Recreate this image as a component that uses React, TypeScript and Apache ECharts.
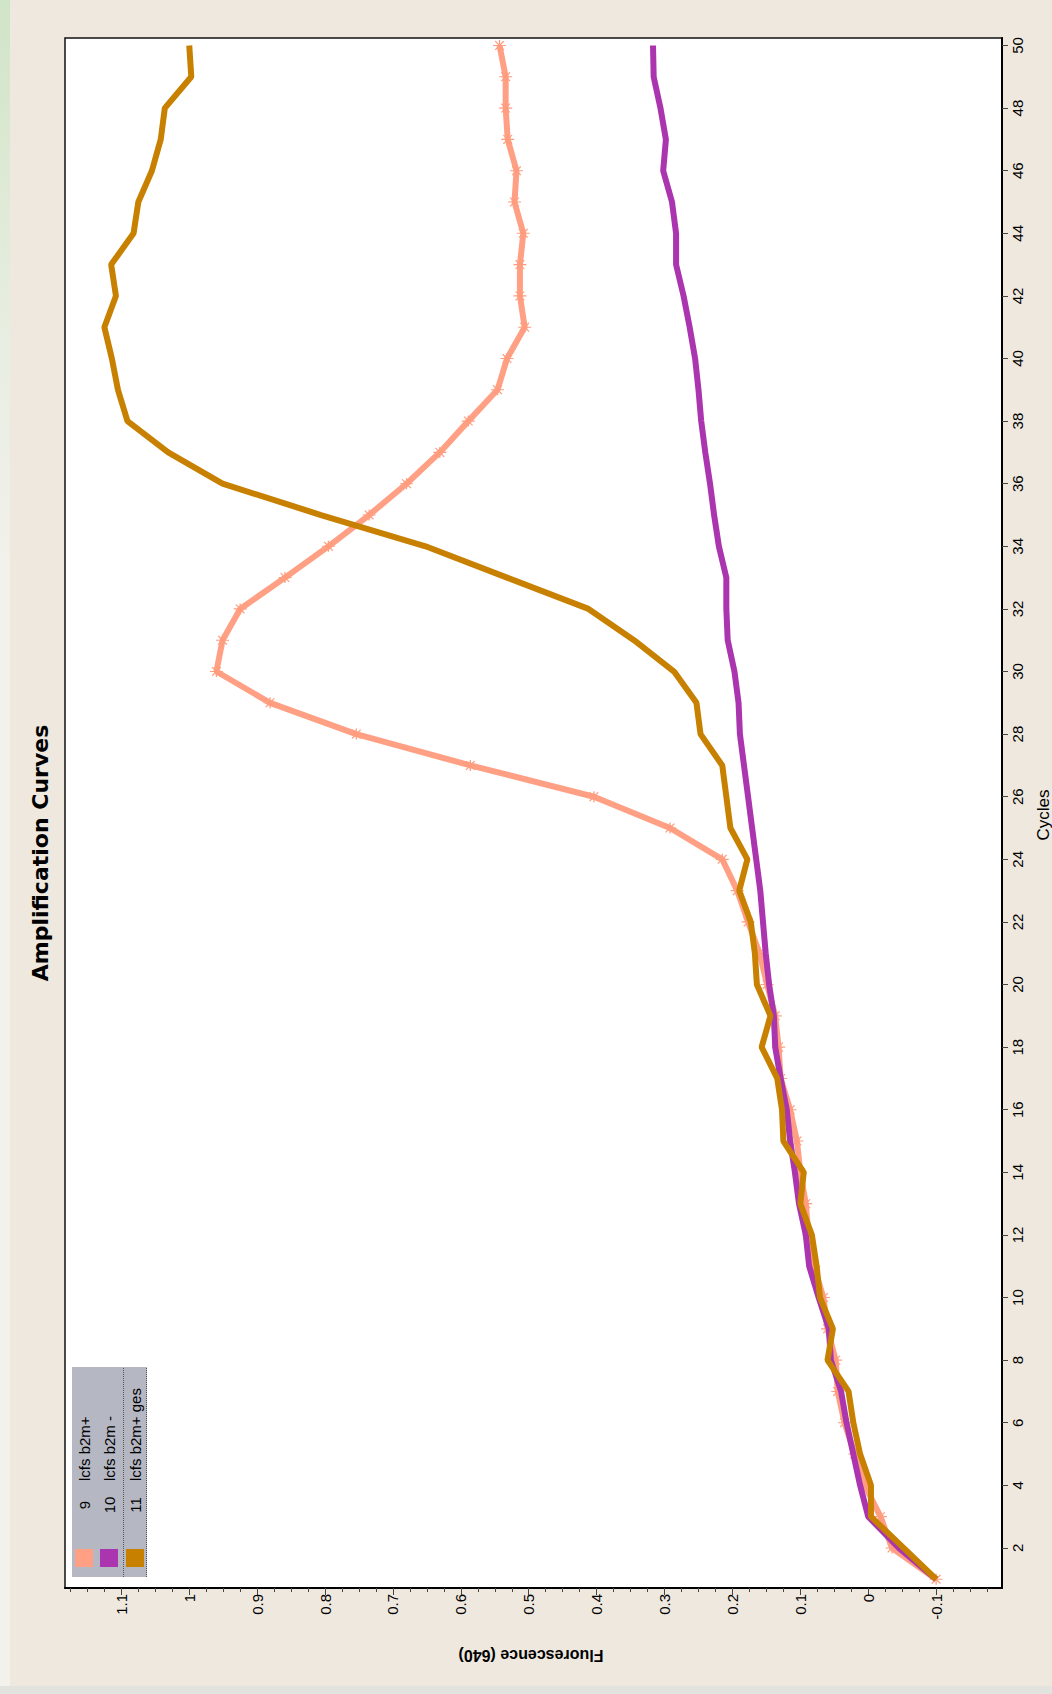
import React, { useEffect, useRef } from "react";
import * as echarts from "echarts";

const cycles = [1,2,3,4,5,6,7,8,9,10,11,12,13,14,15,16,17,18,19,20,21,22,23,24,25,26,27,28,29,30,31,32,33,34,35,36,37,38,39,40,41,42,43,44,45,46,47,48,49,50];

const b2mPlus = [-0.1,-0.035,-0.018,0.005,0.02,0.035,0.045,0.048,0.06,0.066,0.08,0.088,0.092,0.1,0.105,0.115,0.129,0.132,0.137,0.149,0.16,0.177,0.193,0.215,0.292,0.404,0.586,0.754,0.881,0.96,0.951,0.925,0.859,0.795,0.735,0.68,0.631,0.589,0.546,0.532,0.506,0.513,0.513,0.508,0.521,0.518,0.531,0.534,0.534,0.543];

const b2mMinus = [-0.1,-0.045,0.0,0.012,0.022,0.032,0.04,0.055,0.058,0.073,0.087,0.092,0.102,0.108,0.115,0.12,0.129,0.137,0.139,0.146,0.151,0.155,0.159,0.165,0.171,0.177,0.183,0.189,0.191,0.197,0.207,0.209,0.209,0.22,0.227,0.233,0.24,0.246,0.25,0.255,0.263,0.272,0.283,0.283,0.289,0.302,0.298,0.306,0.316,0.317];

const b2mPlusGes = [-0.1,-0.052,-0.004,-0.004,0.012,0.022,0.029,0.06,0.052,0.071,0.076,0.083,0.1,0.095,0.125,0.127,0.134,0.157,0.144,0.164,0.167,0.173,0.19,0.178,0.203,0.209,0.215,0.247,0.253,0.286,0.345,0.412,0.532,0.652,0.806,0.951,1.031,1.091,1.105,1.114,1.125,1.108,1.115,1.082,1.075,1.055,1.042,1.036,0.997,1.0];

const fluorTicks = [-0.1,0,0.1,0.2,0.3,0.4,0.5,0.6,0.7,0.8,0.9,1.0,1.1];
const cycleTicks = [2,4,6,8,10,12,14,16,18,20,22,24,26,28,30,32,34,36,38,40,42,44,46,48,50];

const seriesNames = ["lcfs b2m+", "lcfs b2m -", "lcfs b2m+ ges"];
const seriesIds = ["9", "10", "11"];
const seriesColors = ["#FFA084", "#AA35AE", "#C88000"];

const minorFluorTicks: number[] = [];
for (let i = 0; i < fluorTicks.length - 1; i++) {
  for (let k = 1; k < 4; k++) minorFluorTicks.push(+(fluorTicks[i] + (k * 0.025)).toFixed(3));
}
minorFluorTicks.push(-0.125, -0.15, -0.175, 1.125, 1.15, 1.175);

const FONT = "'Liberation Sans', Arial, sans-serif";

export default function App() {
  const ref = useRef<HTMLDivElement>(null);
  useEffect(() => {
    document.body.style.margin = "0";
    const chart = echarts.init(ref.current!, null, { renderer: "svg" });
    const mk = (vals: number[]) => cycles.map((c, i) => [vals[i], c]);
    const asterisk = "path://M0 5 L12 5 M2 1 L10 9 M10 1 L2 9 M6 0 L6 10";
    const legendX = [84, 109, 135];
    const graphic: any[] = [
      { type: "rect", shape: { x: 0, y: 0, width: 10, height: 1694 }, style: { fill: new echarts.graphic.LinearGradient(0, 0, 0, 1, [{ offset: 0, color: "#D0E4C7" }, { offset: 0.18, color: "#E6EDDF" }, { offset: 0.35, color: "#F3F1EC" }, { offset: 1, color: "#F3F1EC" }]) }, z: 0 },
      { type: "rect", shape: { x: 0, y: 1686, width: 1052, height: 8 }, style: { fill: "#E2E3DF" } },
      { type: "text", x: 40, y: 853, rotation: Math.PI / 2, style: { text: "Amplification Curves", fontSize: 22, fontWeight: "bold", fontFamily: "'DejaVu Sans', sans-serif", fill: "#000", align: "center", verticalAlign: "middle" } },
      { type: "text", x: 1043, y: 815, rotation: Math.PI / 2, style: { text: "Cycles", fontSize: 17, fontFamily: FONT, fill: "#000", align: "center", verticalAlign: "middle" } },
      { type: "text", x: 531, y: 1655, rotation: Math.PI, style: { text: "Fluorescence (640)", fontSize: 16, fontWeight: "bold", fontFamily: FONT, fill: "#000", align: "center", verticalAlign: "middle" } },
      { type: "rect", shape: { x: 72, y: 1367, width: 75, height: 210 }, style: { fill: "#B5B7C3" }, z: 10 },
      { type: "line", shape: { x1: 123.5, y1: 1368, x2: 123.5, y2: 1577 }, style: { stroke: "#555", lineWidth: 1, lineDash: [1, 1] }, z: 11 },
      { type: "line", shape: { x1: 146.5, y1: 1368, x2: 146.5, y2: 1577 }, style: { stroke: "#555", lineWidth: 1, lineDash: [1, 1] }, z: 11 },
    ];
    seriesNames.forEach((n, i) => {
      graphic.push({ type: "rect", shape: { x: legendX[i] - 9, y: 1549, width: 18, height: 18 }, style: { fill: seriesColors[i] }, z: 11 });
      graphic.push({ type: "text", x: legendX[i], y: 1505, rotation: Math.PI / 2, style: { text: seriesIds[i], fontSize: 15, fontFamily: FONT, fill: "#000", align: "center", verticalAlign: "middle" }, z: 11 });
      graphic.push({ type: "text", x: legendX[i], y: 1481, rotation: Math.PI / 2, style: { text: n, fontSize: 15, fontFamily: FONT, fill: "#000", align: "left", verticalAlign: "middle" }, z: 11 });
    });

    chart.setOption({
      animation: false,
      backgroundColor: "#EFE8DF",
      grid: { left: 65, right: 50, top: 38, bottom: 106, show: true, backgroundColor: "#fff", borderColor: "#111", borderWidth: 1.5 },
      xAxis: [
        {
          type: "value", inverse: true, min: -0.197, max: 1.183, position: "bottom",
          axisLine: { show: true, onZero: false, lineStyle: { color: "#000", width: 2 } },
          splitLine: { show: false },
          axisTick: { show: true, customValues: fluorTicks, length: 7, lineStyle: { color: "#444" } },
          axisLabel: { customValues: fluorTicks, rotate: 90, fontSize: 15, color: "#000", margin: 6, fontFamily: FONT, formatter: (v: number) => String(Math.round(v * 10) / 10) },
        },
        {
          type: "value", inverse: true, min: -0.197, max: 1.183, position: "bottom",
          axisLine: { show: false, onZero: false }, splitLine: { show: false },
          axisTick: { show: true, customValues: minorFluorTicks, length: 4, lineStyle: { color: "#444" } },
          axisLabel: { show: false },
        },
      ],
      yAxis: {
        type: "value", min: 0.72, max: 50.24, position: "right",
        axisLine: { show: true, onZero: false, lineStyle: { color: "#000", width: 2 } },
        splitLine: { show: false },
        axisTick: { show: true, customValues: cycleTicks, length: 6, lineStyle: { color: "#444" } },
        axisLabel: { customValues: cycleTicks, rotate: 90, fontSize: 15, color: "#000", margin: 8, fontFamily: FONT },
      },
      series: [
        {
          type: "line", name: seriesNames[0], data: mk(b2mPlus), xAxisIndex: 0,
          lineStyle: { color: seriesColors[0], width: 6 },
          symbol: asterisk, symbolSize: [13, 11], showSymbol: true, showAllSymbol: true,
          itemStyle: { color: "rgba(0,0,0,0)", borderColor: "#FF9C7E", borderWidth: 1.2 },
          z: 2,
        },
        {
          type: "line", name: seriesNames[1], data: mk(b2mMinus), xAxisIndex: 0,
          lineStyle: { color: seriesColors[1], width: 6 }, symbol: "none", z: 3,
        },
        {
          type: "line", name: seriesNames[2], data: mk(b2mPlusGes), xAxisIndex: 0,
          lineStyle: { color: seriesColors[2], width: 6 }, symbol: "none", z: 4,
        },
      ],
      graphic,
    });
    return () => chart.dispose();
  }, []);
  return <div ref={ref} style={{ width: 1052, height: 1694 }} />;
}
